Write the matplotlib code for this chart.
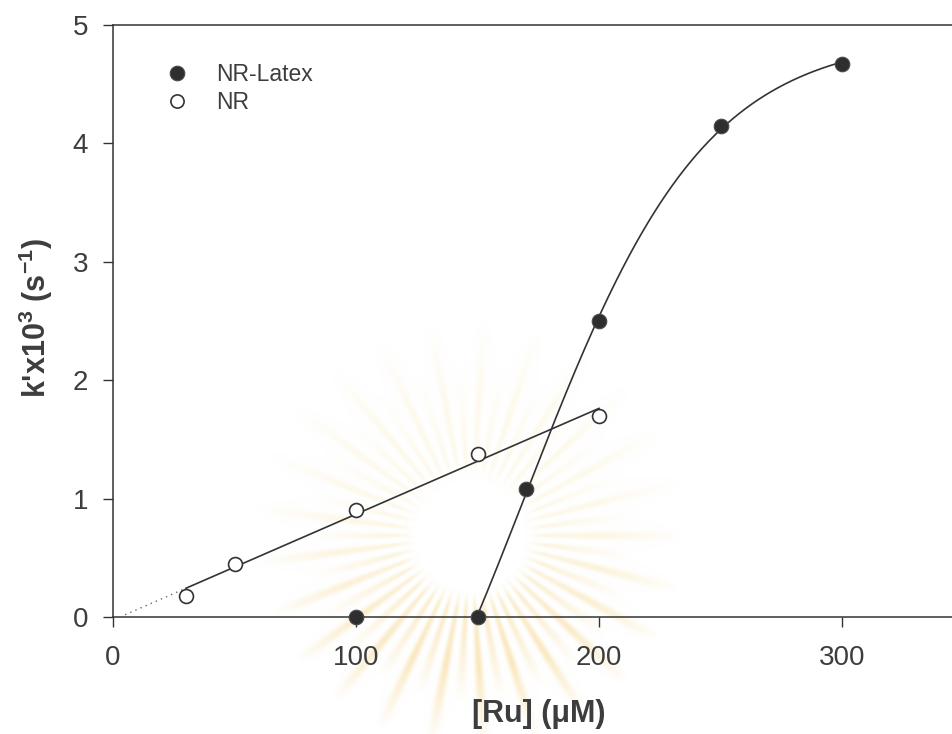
import numpy as np
import matplotlib
matplotlib.use("Agg")
import matplotlib.pyplot as plt
from matplotlib.lines import Line2D

# ---- data -------------------------------------------------------------
# NR (open circles)
nr_ru = [30, 50, 100, 150, 200]
nr_k = [0.18, 0.45, 0.90, 1.38, 1.70]

# NR-Latex (filled circles)
latex_ru = [100, 150, 170, 200, 250, 300]
latex_k = [0.0, 0.0, 1.08, 2.50, 4.15, 4.67]

x_ticks = [0, 100, 200, 300]
y_ticks = [0, 1, 2, 3, 4, 5]
series_names = ["NR-Latex", "NR"]

# ---- style ------------------------------------------------------------
plt.rcParams["font.family"] = ["Liberation Sans", "DejaVu Sans"]
plt.rcParams["mathtext.default"] = "regular"
INK = "#333333"
TXT = "#3d3d3d"

W, H = 952, 734
fig = plt.figure(figsize=(W / 100, H / 100), dpi=100)

# soft sunburst emblem in the background
bg = fig.add_axes([0, 0, 1, 1], zorder=0)
bg.axis("off")
yy, xx = np.mgrid[0:H, 0:W].astype(float)
cx, cy = 470, 535
dx, dy = xx - cx, yy - cy
r = np.hypot(dx, dy)
th = np.arctan2(dy, dx)
n_rays = 50
ray = (0.5 + 0.5 * np.cos(n_rays * th)) ** 1.6
length = 190 + 25 * np.cos(n_rays / 2 * th)
inner = np.clip((r - 55) / 20, 0, 1)
outer = np.clip((length - r) / 80, 0, 1)
lower = np.clip((yy - cy + 40) / 160, 0, 1)
alpha = ray * inner * outer * (0.28 + 0.22 * lower)
pale = np.array([0.98, 0.92, 0.74])
warm = np.array([0.96, 0.82, 0.50])
col = pale[None, None, :] * (1 - lower[..., None]) + warm[None, None, :] * lower[..., None]
rgb = 1 - alpha[..., None] * (1 - col)
bg.imshow(rgb, extent=(0, W, H, 0), interpolation="bilinear")
bg.set_xlim(0, W)
bg.set_ylim(H, 0)

# main axes
x0_px, y0_px = 113, 617
px_per_x, px_per_y = 2.43, 118.4
xmax, ymax = 350, 5
ax = fig.add_axes([x0_px / W, 1 - y0_px / H,
                   xmax * px_per_x / W, ymax * px_per_y / H], zorder=1)
ax.set_facecolor("none")
ax.set_xlim(0, xmax)
ax.set_ylim(0, ymax)

for side in ("left", "bottom", "top"):
    ax.spines[side].set_color(INK)
    ax.spines[side].set_linewidth(1.1)
ax.spines["right"].set_visible(False)

ax.set_xticks(x_ticks)
ax.set_yticks(y_ticks)
ax.tick_params(axis="both", direction="out", length=7, width=1.0, color=INK,
               labelsize=20, labelcolor=TXT)
ax.tick_params(axis="x", pad=13)
ax.tick_params(axis="y", pad=11)
ax.tick_params(top=False, right=False)

# NR: linear least-squares fit, dotted back-extrapolation toward origin
slope, icpt = np.polyfit(nr_ru, nr_k, 1)
xs = np.linspace(min(nr_ru), max(nr_ru), 50)
ax.plot(xs, slope * xs + icpt, color=INK, lw=1.2, zorder=2)
xd = np.linspace(5, min(nr_ru), 20)
ax.plot(xd, slope * xd + icpt, color="#666666", lw=1.0, ls=(0, (1, 3)), zorder=2)

# NR-Latex: sigmoidal fit over the rising part (from 150 uM on)
lx = np.array(latex_ru[1:], float)
ly = np.array(latex_k[1:], float)
best = None
for c in np.linspace(140, 230, 181):
    for b in np.linspace(5, 80, 151):
        f = 1 / (1 + np.exp(-(lx - c) / b))
        A = np.column_stack([np.ones_like(f), f])
        coef, *_ = np.linalg.lstsq(A, ly, rcond=None)
        err = np.sum((A @ coef - ly) ** 2)
        if best is None or err < best[0]:
            best = (err, c, b, coef)
_, c, b, (y_off, amp) = best
xc = np.linspace(lx.min(), lx.max(), 300)
yc = y_off + amp / (1 + np.exp(-(xc - c) / b))
ax.plot(xc, np.clip(yc, 0, None), color=INK, lw=1.2, zorder=2)

# markers
ax.plot(latex_ru, latex_k, ls="none", marker="o", ms=10.5, mfc="#2e2e2e",
        mec="#4a4a4a", mew=0.8, clip_on=False, zorder=4)
ax.plot(nr_ru, nr_k, ls="none", marker="o", ms=10, mfc="white",
        mec=INK, mew=1.2, clip_on=False, zorder=4)

# legend
handles = [
    Line2D([], [], ls="none", marker="o", ms=10.5, mfc="#2e2e2e", mec="#4a4a4a", mew=0.8),
    Line2D([], [], ls="none", marker="o", ms=9.5, mfc="white", mec=INK, mew=1.2),
]
leg = ax.legend(handles, series_names, loc="upper left",
                bbox_to_anchor=((163 - x0_px) / (xmax * px_per_x), (y0_px - 63) / (ymax * px_per_y)),
                frameon=False, fontsize=16.5, handletextpad=1.1, labelspacing=0.22,
                borderaxespad=0, borderpad=0, handlelength=1.2)
for t in leg.get_texts():
    t.set_color(TXT)

# axis labels
ax.set_xlabel("[Ru] (μM)", fontsize=22, fontweight="bold", color=TXT)
ax.xaxis.set_label_coords(0.5, (y0_px - 714) / (ymax * px_per_y))
ax.xaxis.label.set_va("center")
ax.set_ylabel("k'x10$^{3}$ (s$^{-1}$)", fontsize=22, fontweight="bold", color=TXT)
ax.yaxis.set_label_coords((36 - x0_px) / (xmax * px_per_x), (y0_px - 318) / (ymax * px_per_y))
ax.yaxis.label.set_va("center")

fig.savefig("out.png", dpi=100)
